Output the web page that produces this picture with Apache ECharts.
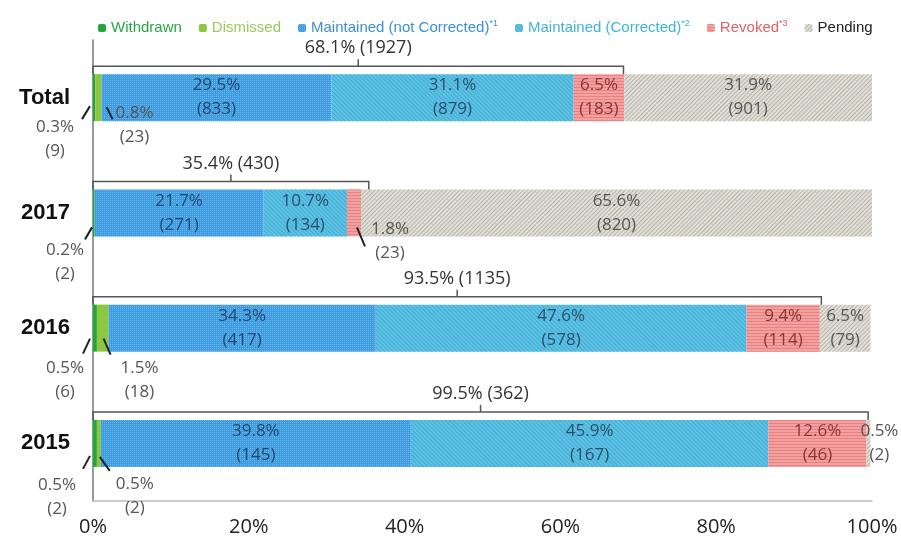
<!DOCTYPE html>
<html>
<head>
<meta charset="utf-8">
<script src="https://cdn.jsdelivr.net/npm/echarts@6/dist/echarts.min.js"></script>
<style>
  html, body { margin: 0; padding: 0; background: #fff; }
  #main { width: 901px; height: 545px; }
</style>
</head>
<body>
<div id="main"></div>
<script>
// categories (top to bottom)
var categories = ['Total', '2017', '2016', '2015']
var seriesNames = ['Withdrawn', 'Dismissed', 'Maintained (not Corrected)', 'Maintained (Corrected)', 'Revoked', 'Pending']
var supMarks = ['', '', '*1', '*2', '*3', '']

// share (%) and count of each outcome, per category
var withdrawnPct = [0.3, 0.2, 0.5, 0.5]
var withdrawnCnt = [9, 2, 6, 2]
var dismissedPct = [0.8, 0, 1.5, 0.5]
var dismissedCnt = [23, 0, 18, 2]
var notCorrectedPct = [29.5, 21.7, 34.3, 39.8]
var notCorrectedCnt = [833, 271, 417, 145]
var correctedPct = [31.1, 10.7, 47.6, 45.9]
var correctedCnt = [879, 134, 578, 167]
var revokedPct = [6.5, 1.8, 9.4, 12.6]
var revokedCnt = [183, 23, 114, 46]
var pendingPct = [31.9, 65.6, 6.5, 0.5]
var pendingCnt = [901, 820, 79, 2]

// bracket totals (decided cases)
var decidedPct = [68.1, 35.4, 93.5, 99.5]
var decidedCnt = [1927, 430, 1135, 362]

// x axis ticks
var xTicks = [0, 20, 40, 60, 80, 100]

// small segments labelled outside the bar: [series, category, edge]
var notes = [
  [0, 0, 'start'], [1, 0, 'end'],
  [0, 1, 'start'], [4, 1, 'end'],
  [0, 2, 'start'], [1, 2, 'end'],
  [0, 3, 'start'], [1, 3, 'end'], [5, 3, 'end']
]

var pctArr = [withdrawnPct, dismissedPct, notCorrectedPct, correctedPct, revokedPct, pendingPct]
var cntArr = [withdrawnCnt, dismissedCnt, notCorrectedCnt, correctedCnt, revokedCnt, pendingCnt]

// ---- styling ----
var BAR_W = 47
var FONT = 'Open Sans'
var colors = ['#23a63c', '#8dc63f', '#3d9ce0', '#5cc3e4', '#f3a0a0', '#e1dfd7']
var legendColors = ['#27a844', '#96cc5c', '#3b8fd8', '#41b2d8', '#e06262', '#222']
var labelColors = ['#555', '#555', '#24476f', '#2d4e6b', '#8a3535', '#555']
var decals = [
  null,
  null,
  { symbol: 'rect', symbolSize: 1, dashArrayX: [1, 1], dashArrayY: [1, 1], color: 'rgba(150,205,245,0.55)' },
  { symbol: 'rect', symbolSize: 1, dashArrayX: [1, 0], dashArrayY: [1, 2], rotation: Math.PI / 4, color: 'rgba(40,140,190,0.45)' },
  { symbol: 'rect', symbolSize: 1, dashArrayX: [1, 0], dashArrayY: [1, 2], rotation: 0, color: 'rgba(225,110,110,0.6)' },
  { symbol: 'rect', symbolSize: 1, dashArrayX: [1, 0], dashArrayY: [1, 2], rotation: -Math.PI / 4, color: 'rgba(150,145,130,0.55)' }
]
// offsets relative to (edge x, bar bottom y): leader line and first text line
var noteLayout = [
  { line: [-11, -2, -3, -15], text: [-38, 6] },
  { line: [5, -14, 11, -2], text: [33, -8] },
  { line: [-8, 3, -1, -9], text: [-28, 14] },
  { line: [-4, -9, 4, 10], text: [29, -7] },
  { line: [-10, 2, -3, -13], text: [-28, 17] },
  { line: [-5, -13, 2, 3], text: [31, 17] },
  { line: [-10, 2, -3, -11], text: [-36, 18] },
  { line: [-1, -10, 9, 4], text: [34, 17] },
  { line: null, text: [9, -36] }
]

function cumulative(seriesIdx, cat, edge) {
  var s = 0
  var last = edge === 'end' ? seriesIdx : seriesIdx - 1
  for (var k = 0; k <= last; k++) s += pctArr[k][cat]
  return s
}

var barSeries = seriesNames.map(function (name, si) {
  var s = {
    name: name,
    type: 'bar',
    stack: 'all',
    barWidth: BAR_W,
    itemStyle: { color: colors[si] },
    label: {
      show: true,
      position: 'inside',
      color: labelColors[si],
      fontFamily: FONT,
      fontSize: 17,
      lineHeight: 24,
      formatter: function (p) {
        if (p.value < 5) return ''
        return p.value.toFixed(1) + '%\n(' + cntArr[si][p.dataIndex] + ')'
      }
    },
    data: pctArr[si]
  }
  if (decals[si]) s.itemStyle.decal = decals[si]
  return s
})

var bracketSeries = {
  type: 'custom',
  name: 'brackets',
  clip: false,
  z: 10,
  encode: { x: 0, y: 1 },
  data: decidedPct.map(function (v, i) { return [v, i] }),
  renderItem: function (params, api) {
    var cat = api.value(1)
    var p0 = api.coord([0, cat])
    var p1 = api.coord([api.value(0), cat])
    var top = p0[1] - BAR_W / 2
    var yl = top - 8
    var xm = (p0[0] + p1[0]) / 2
    var i = params.dataIndex
    return {
      type: 'group',
      children: [
        { type: 'polyline', shape: { points: [[p0[0], top], [p0[0], yl], [p1[0], yl], [p1[0], top]] },
          style: { stroke: '#555', lineWidth: 1.5, fill: null } },
        { type: 'line', shape: { x1: xm, y1: yl, x2: xm, y2: yl - 7 }, style: { stroke: '#555', lineWidth: 1.5 } },
        { type: 'text', x: xm, y: yl - 18,
          style: { text: decidedPct[i].toFixed(1) + '% (' + decidedCnt[i] + ')', align: 'center', verticalAlign: 'middle',
            fontFamily: FONT, fontSize: 18, fill: '#333' } }
      ]
    }
  }
}

var noteSeries = {
  type: 'custom',
  name: 'notes',
  clip: false,
  z: 11,
  encode: { x: 0, y: 1 },
  data: notes.map(function (n, k) { return [cumulative(n[0], n[1], n[2]), n[1], k] }),
  renderItem: function (params, api) {
    var k = api.value(2)
    var n = notes[k]
    var L = noteLayout[k]
    var p = api.coord([api.value(0), api.value(1)])
    var bx = p[0]
    var by = p[1] + BAR_W / 2
    var children = []
    if (L.line) {
      children.push({ type: 'line',
        shape: { x1: bx + L.line[0], y1: by + L.line[1], x2: bx + L.line[2], y2: by + L.line[3] },
        style: { stroke: '#222', lineWidth: 2 } })
    }
    children.push({ type: 'text', x: bx + L.text[0], y: by + L.text[1],
      style: { text: pctArr[n[0]][n[1]].toFixed(1) + '%\n(' + cntArr[n[0]][n[1]] + ')',
        align: 'center', verticalAlign: 'top', lineHeight: 24, fontFamily: FONT, fontSize: 17, fill: '#555',
        y: -12 } })
    return { type: 'group', children: children }
  }
}

var chart = echarts.init(document.getElementById('main'))
chart.setOption({
  animation: false,
  backgroundColor: '#fff',
  legend: {
    left: 93,
    top: 14,
    itemWidth: 8,
    itemHeight: 8,
    itemGap: 17,
    data: seriesNames.map(function (n, i) {
      return { name: n, textStyle: { color: legendColors[i] } }
    }),
    textStyle: {
      fontFamily: 'Liberation Sans',
      fontSize: 15,
      rich: { s: { fontSize: 9, verticalAlign: 'top', lineHeight: 18 } }
    },
    formatter: function (name) {
      var m = supMarks[seriesNames.indexOf(name)]
      return m ? name + '{s|' + m + '}' : name
    }
  },
  grid: { left: 93, right: 29, top: 40, bottom: 44 },
  xAxis: {
    type: 'value',
    min: xTicks[0],
    max: xTicks[xTicks.length - 1],
    interval: xTicks[1] - xTicks[0],
    axisLine: { show: true, lineStyle: { color: '#bbb', width: 1.5 } },
    axisTick: { show: false },
    splitLine: { show: false },
    axisLabel: { formatter: '{value}%', fontFamily: FONT, fontSize: 20, color: '#222', margin: 16 }
  },
  yAxis: {
    type: 'category',
    inverse: true,
    data: categories,
    axisLine: { show: true, lineStyle: { color: '#777', width: 1.5 } },
    axisTick: { show: false },
    axisLabel: { fontFamily: 'Liberation Sans', fontWeight: 'bold', fontSize: 22, color: '#111', margin: 23 }
  },
  series: barSeries.concat([bracketSeries, noteSeries])
})
</script>
</body>
</html>
